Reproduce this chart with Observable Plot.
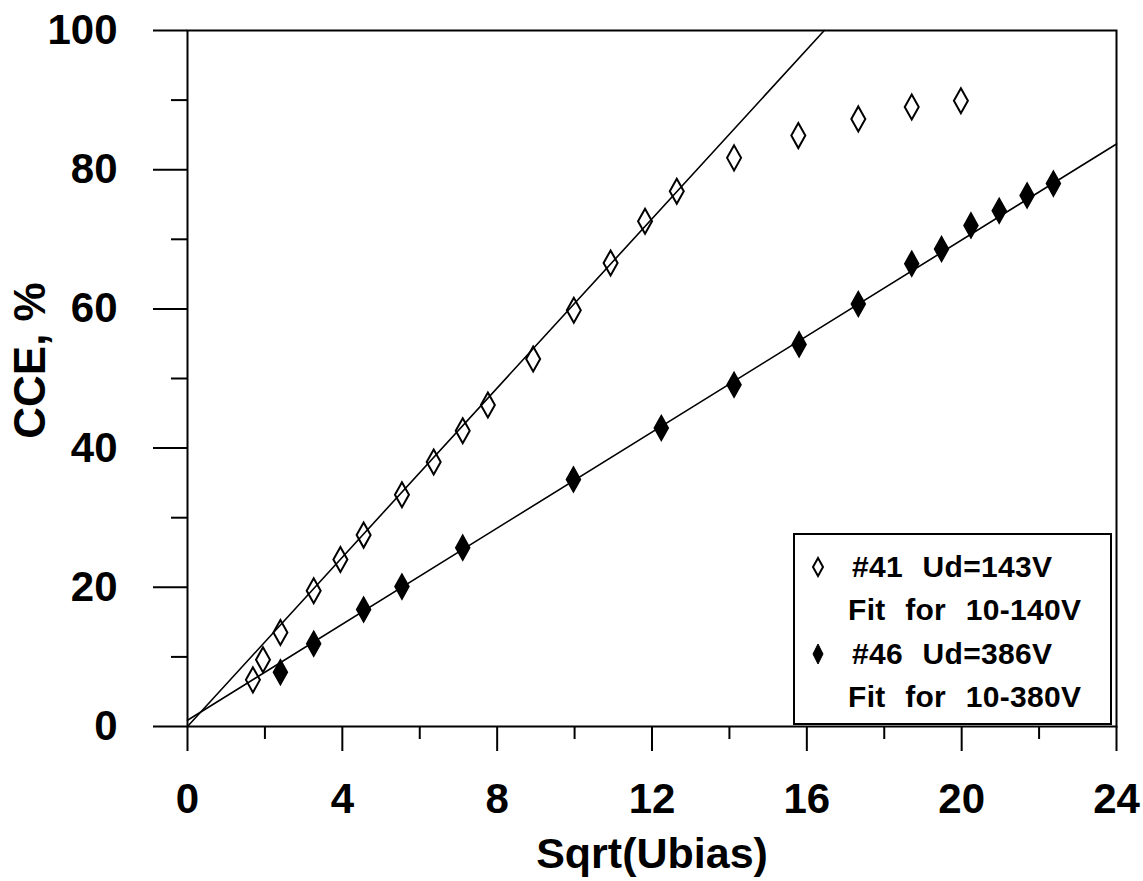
<!DOCTYPE html>
<html>
<head>
<meta charset="utf-8">
<script src="https://cdn.jsdelivr.net/npm/d3@7"></script>
<script src="https://cdn.jsdelivr.net/npm/@observablehq/plot@0.6"></script>
<style>
  body { margin: 0; background: #fff; }
  #wrap { position: relative; width: 1143px; height: 881px; }
  #legend {
    position: absolute; left: 793px; top: 533px; width: 319px; height: 192px;
    border: 2px solid #000; box-sizing: border-box; background: #fff;
    font-family: "Liberation Sans", Arial, Helvetica, sans-serif;
    font-weight: bold; font-size: 30px; color: #000;
  }
  .row { position: absolute; left: 0; height: 40px; line-height: 40px; white-space: pre; }
  .row svg { position: absolute; left: 16px; top: 9px; }
  .row span { position: absolute; word-spacing: 11px; letter-spacing: 0.3px; }
</style>
</head>
<body>
<div id="wrap"></div>
<script>
// Sample #41 (open diamonds): x = Sqrt(Ubias), y = CCE %
const open41X = [1.69, 1.95, 2.40, 3.26, 3.95, 4.55, 5.54, 6.36, 7.11, 7.76, 8.93, 9.98, 10.93, 11.82, 12.64, 14.12, 15.78, 17.33, 18.71, 19.98];
const open41Y = [6.7, 9.6, 13.5, 19.5, 24.0, 27.5, 33.3, 38.0, 42.5, 46.2, 52.8, 59.8, 66.6, 72.6, 76.9, 81.7, 84.9, 87.3, 89.0, 89.9];
// Sample #46 (filled diamonds)
const fill46X = [2.40, 3.26, 4.55, 5.54, 7.11, 9.97, 12.24, 14.12, 15.80, 17.33, 18.71, 19.48, 20.24, 20.97, 21.69, 22.37];
const fill46Y = [7.8, 11.9, 16.8, 20.1, 25.7, 35.5, 42.9, 49.1, 54.9, 60.7, 66.5, 68.6, 72.0, 74.1, 76.3, 78.0];
// Linear fit lines (end points)
const fit41X = [0, 16.45];
const fit41Y = [0, 100];
const fit46X = [0, 24];
const fit46Y = [0.9, 83.7];
// Axis ticks
const xMajor = [0, 4, 8, 12, 16, 20, 24];
const xMinor = [2, 6, 10, 14, 18, 22];
const yMajor = [0, 20, 40, 60, 80, 100];
const yMinor = [10, 30, 50, 70, 90];
const xTitle = "Sqrt(Ubias)";
const yTitle = "CCE, %";
const legendLabels = ["#41 Ud=143V", "Fit for 10-140V", "#46 Ud=386V", "Fit for 10-380V"];

const FONT = '"Liberation Sans", Arial, Helvetica, sans-serif';

const diamond = (w, h) => ({
  draw(ctx) {
    ctx.moveTo(0, -h); ctx.lineTo(w, 0); ctx.lineTo(0, h); ctx.lineTo(-w, 0); ctx.closePath();
  }
});

const plot = Plot.plot({
  width: 1143,
  height: 881,
  marginLeft: 187,
  marginRight: 27,
  marginTop: 30,
  marginBottom: 155,
  style: { fontFamily: FONT, fontWeight: "bold", fontSize: "42px", color: "#000", background: "#fff", overflow: "visible" },
  x: { domain: [0, 24] },
  y: { domain: [0, 100] },
  marks: [
    Plot.frame({ stroke: "#000", strokeWidth: 2 }),
    Plot.axisY(yMinor, { tickSize: 16, tickFormat: () => "", label: null, strokeWidth: 2 }),
    Plot.axisY(yMajor, { tickSize: 34, tickPadding: 36, label: null, strokeWidth: 2, fontSize: 42 }),
    Plot.axisX(xMinor, { tickSize: 13, tickFormat: () => "", label: null, strokeWidth: 2 }),
    Plot.axisX(xMajor, { tickSize: 25, tickPadding: 32, label: null, strokeWidth: 2, fontSize: 42 }),
    Plot.line(fit41X, { x: d => d, y: (d, i) => fit41Y[i], stroke: "#000", strokeWidth: 1.6 }),
    Plot.line(fit46X, { x: d => d, y: (d, i) => fit46Y[i], stroke: "#000", strokeWidth: 1.6 }),
    Plot.dot(open41X, { x: d => d, y: (d, i) => open41Y[i], symbol: diamond(7, 12.5), r: 5, stroke: "#000", strokeWidth: 2, fill: "none" }),
    Plot.dot(fill46X, { x: d => d, y: (d, i) => fill46Y[i], symbol: diamond(7, 12.5), r: 5, stroke: "#000", strokeWidth: 1.5, fill: "#000" }),
    Plot.text([xTitle], { frameAnchor: "bottom", dy: 141, lineAnchor: "bottom", textAnchor: "middle", text: d => d, fontSize: 43, fill: "#000" }),
    Plot.text([yTitle], { frameAnchor: "left", dx: -157, dy: -18, rotate: -90, textAnchor: "middle", lineAnchor: "middle", text: d => d, fontSize: 44, fill: "#000" })
  ]
});

const wrap = document.getElementById("wrap");
wrap.appendChild(plot);

// Legend inside plot area
const legend = document.createElement("div");
legend.id = "legend";
const rowTops = [12, 55, 99, 142];
legendLabels.forEach((label, i) => {
  const row = document.createElement("div");
  row.className = "row";
  row.style.top = rowTops[i] + "px";
  row.style.width = "100%";
  let sym = "";
  if (i === 0) sym = '<svg width="14" height="22" viewBox="-7 -11 14 22"><path d="M0,-9L5,0L0,9L-5,0Z" fill="none" stroke="#000" stroke-width="2"/></svg>';
  if (i === 2) sym = '<svg width="14" height="22" viewBox="-7 -11 14 22"><path d="M0,-10L5,0L0,10L-5,0Z" fill="#000" stroke="#000" stroke-width="1"/></svg>';
  const left = (i % 2 === 0) ? 57 : 53;
  row.innerHTML = sym + '<span style="left:' + left + 'px"></span>';
  row.querySelector("span").textContent = label;
  legend.appendChild(row);
});
wrap.appendChild(legend);
</script>
</body>
</html>
